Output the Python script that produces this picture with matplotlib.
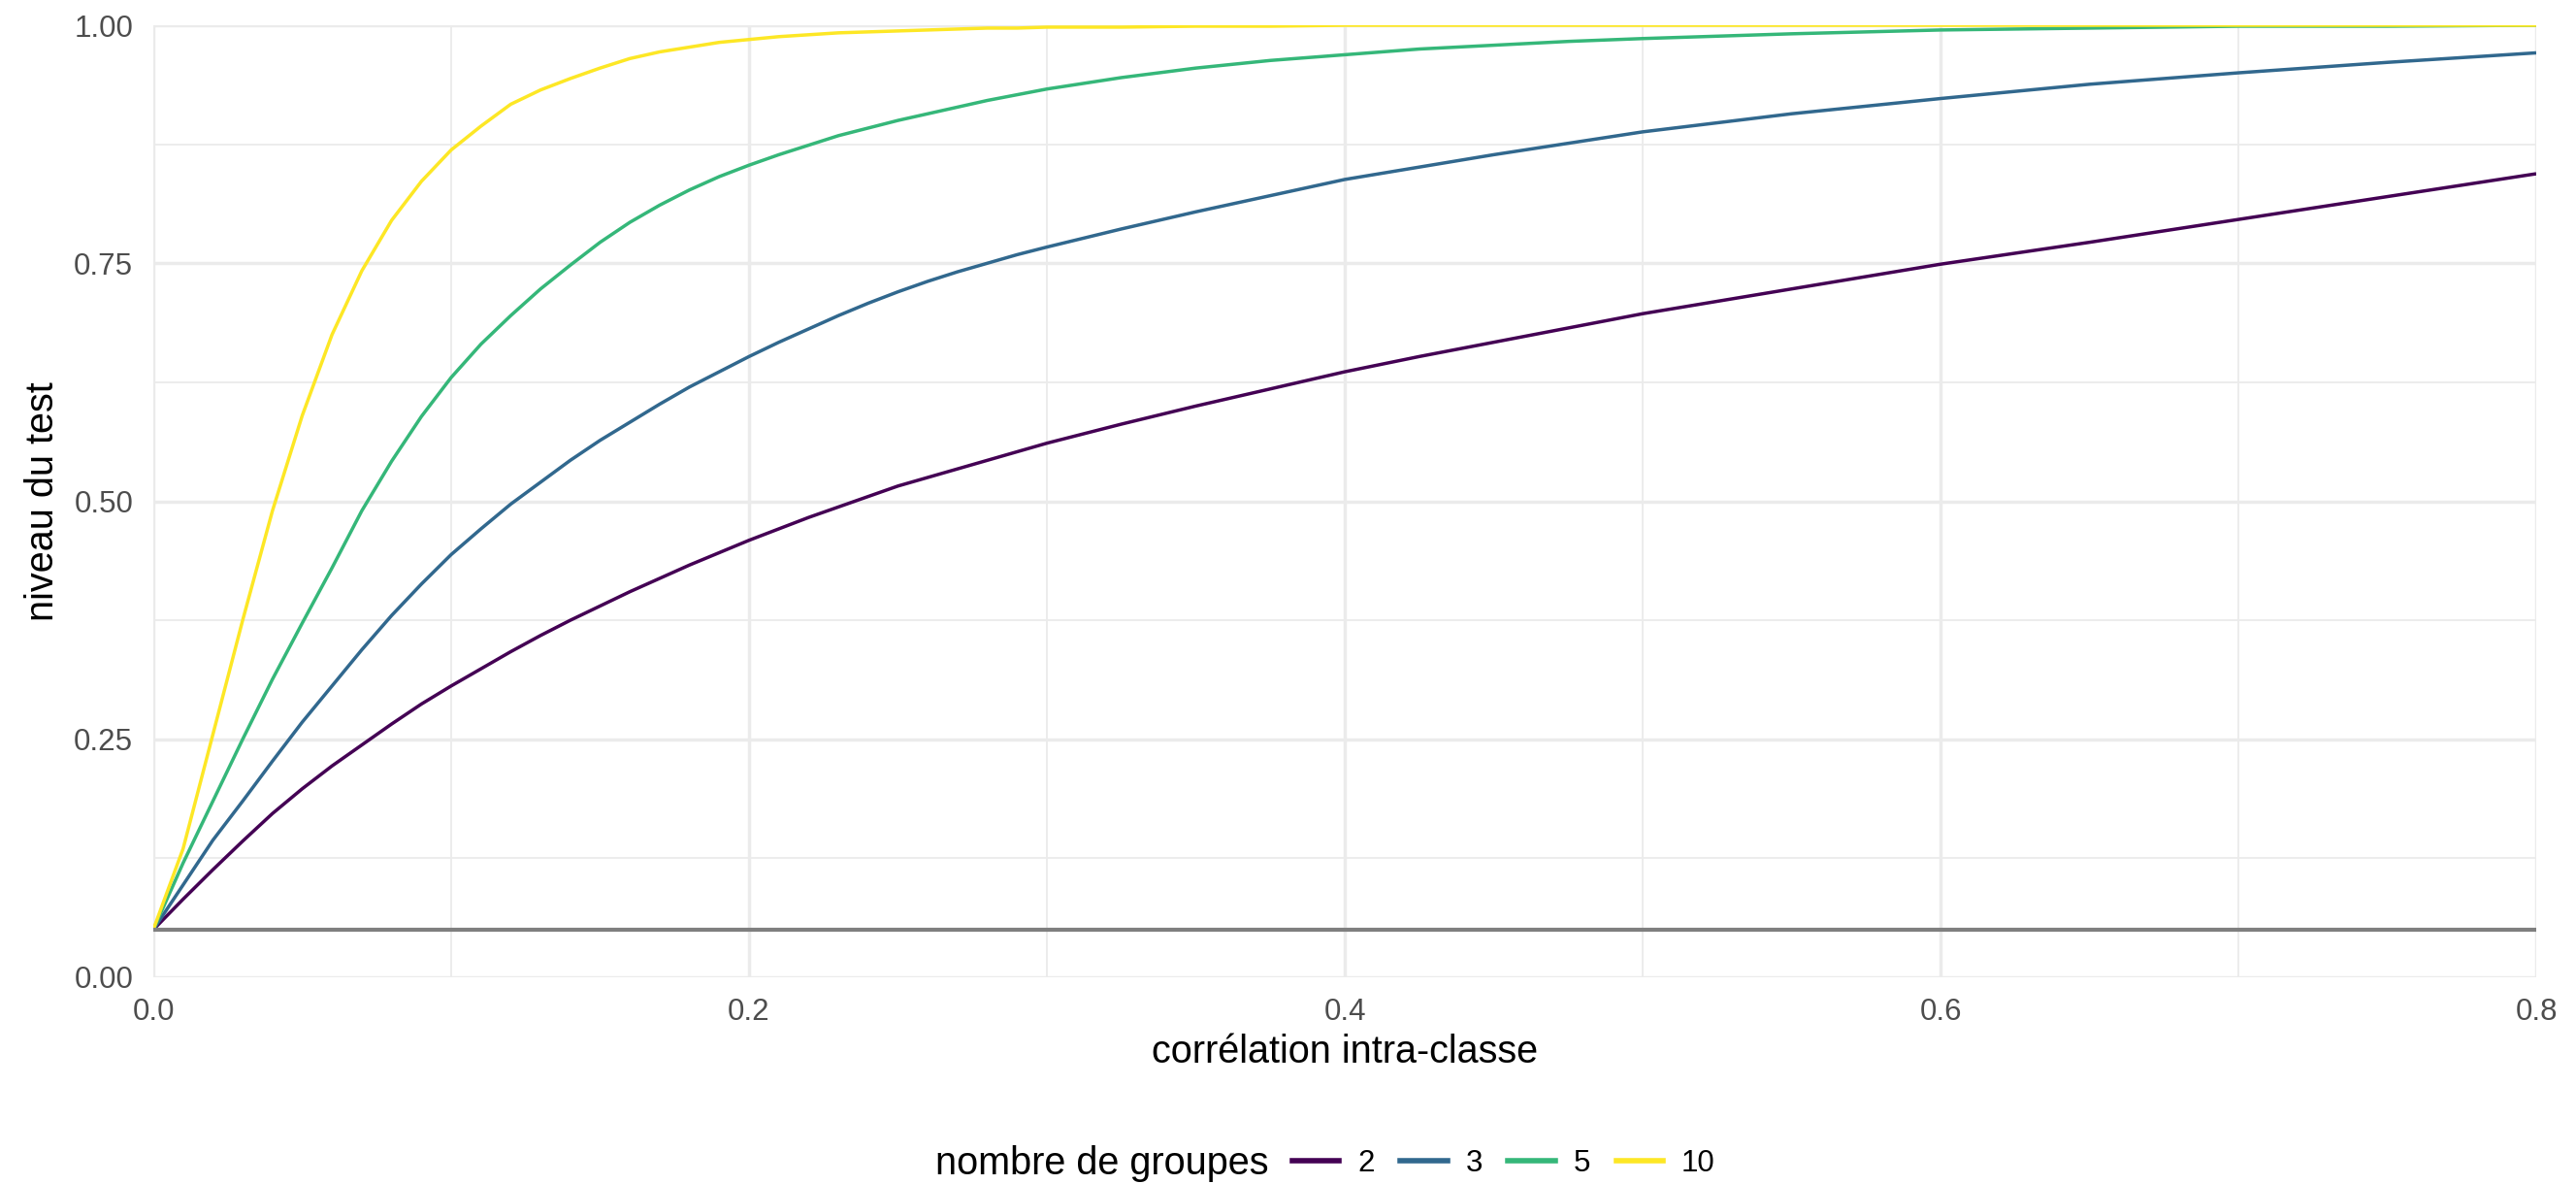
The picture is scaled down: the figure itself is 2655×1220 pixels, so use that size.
import matplotlib
matplotlib.use("Agg")
import matplotlib.pyplot as plt
from matplotlib.lines import Line2D
from matplotlib.ticker import MultipleLocator, FixedLocator

# correlation intra-classe (x) and level of the test for each number of groups
correlation = [0.00, 0.01, 0.02, 0.03, 0.04, 0.05, 0.06, 0.07, 0.08, 0.09,
               0.10, 0.11, 0.12, 0.13, 0.14, 0.15, 0.16, 0.17, 0.18, 0.19,
               0.20, 0.21, 0.22, 0.23, 0.24, 0.25, 0.26, 0.27, 0.28, 0.29,
               0.30, 0.325, 0.35, 0.375, 0.40, 0.425, 0.45, 0.475, 0.50,
               0.55, 0.60, 0.65, 0.70, 0.75, 0.80]

niveau_2 = [0.050, 0.082, 0.113, 0.143, 0.172, 0.198, 0.222, 0.244, 0.266, 0.287,
            0.306, 0.324, 0.342, 0.359, 0.375, 0.390, 0.405, 0.419, 0.433, 0.446,
            0.459, 0.471, 0.483, 0.494, 0.505, 0.516, 0.525, 0.534, 0.543, 0.552,
            0.561, 0.581, 0.600, 0.618, 0.636, 0.652, 0.667, 0.682, 0.697,
            0.723, 0.749, 0.772, 0.796, 0.820, 0.844]
niveau_3 = [0.050, 0.097, 0.144, 0.185, 0.227, 0.268, 0.306, 0.344, 0.380, 0.413,
            0.444, 0.471, 0.497, 0.520, 0.543, 0.564, 0.583, 0.602, 0.620, 0.636,
            0.652, 0.667, 0.681, 0.695, 0.708, 0.720, 0.731, 0.741, 0.750, 0.759,
            0.767, 0.786, 0.804, 0.821, 0.838, 0.851, 0.864, 0.876, 0.888,
            0.907, 0.923, 0.938, 0.950, 0.961, 0.971]
niveau_5 = [0.050, 0.120, 0.185, 0.250, 0.313, 0.372, 0.430, 0.490, 0.542, 0.589,
            0.630, 0.665, 0.695, 0.723, 0.748, 0.772, 0.793, 0.811, 0.827, 0.841,
            0.853, 0.864, 0.874, 0.884, 0.892, 0.900, 0.907, 0.914, 0.921, 0.927,
            0.933, 0.945, 0.955, 0.963, 0.969, 0.975, 0.979, 0.983, 0.986,
            0.991, 0.995, 0.997, 0.999, 0.999, 1.000]
niveau_10 = [0.050, 0.135, 0.255, 0.375, 0.490, 0.590, 0.675, 0.742, 0.795, 0.836,
             0.869, 0.894, 0.917, 0.932, 0.944, 0.955, 0.965, 0.972, 0.977, 0.982,
             0.985, 0.988, 0.990, 0.992, 0.993, 0.994, 0.995, 0.996, 0.997, 0.997,
             0.998, 0.998, 0.999, 0.999, 1.000, 1.000, 1.000, 1.000, 1.000,
             1.000, 1.000, 1.000, 1.000, 1.000, 1.000]

groupes = ["2", "3", "5", "10"]
niveaux = [niveau_2, niveau_3, niveau_5, niveau_10]
couleurs = ["#440154", "#31688E", "#35B779", "#FDE725"]
niveau_nominal = 0.05

plt.rcParams["font.family"] = ["Liberation Sans", "DejaVu Sans"]

W, H = 2655, 1220
fig = plt.figure(figsize=(W / 100, H / 100), dpi=100)
left, right, top, bottom = 158, 2614, 26, 1007
ax = fig.add_axes([left / W, 1 - bottom / H, (right - left) / W, (bottom - top) / H])

for niveau, couleur in zip(niveaux, couleurs):
    ax.plot(correlation, niveau, color=couleur, lw=2.5, solid_capstyle="butt")
ax.axhline(niveau_nominal, color="#7F7F7F", lw=3, zorder=3)

ax.set_xlim(0, 0.8)
ax.set_ylim(0, 1)
ax.xaxis.set_major_locator(MultipleLocator(0.2))
ax.xaxis.set_minor_locator(FixedLocator([0.1, 0.3, 0.5, 0.7]))
ax.yaxis.set_major_locator(MultipleLocator(0.25))
ax.yaxis.set_minor_locator(FixedLocator([0.125, 0.375, 0.625, 0.875]))
ax.xaxis.set_major_formatter(lambda v, p: "{:.1f}".format(v))
ax.yaxis.set_major_formatter(lambda v, p: "{:.2f}".format(v))
ax.grid(which="major", color="#EBEBEB", lw=2.5)
ax.grid(which="minor", color="#EBEBEB", lw=1.3)
ax.set_axisbelow(True)
for s in ax.spines.values():
    s.set_visible(False)
ax.tick_params(which="both", length=0, pad=15, labelsize=22.5, labelcolor="#4D4D4D")

ax.set_xlabel("corrélation intra-classe", fontsize=28.5)
ax.set_ylabel("niveau du test", fontsize=28.5)
ax.xaxis.set_label_coords(0.5, (bottom - 1084) / (bottom - top))
ax.xaxis.label.set_va("center")
ax.yaxis.set_label_coords((44 - left) / (right - left), 0.5)
ax.yaxis.label.set_va("center")

# legend: title on the left, keys in one row
fig.text(964 / W, 1 - 1199 / H, "nombre de groupes", fontsize=28.5,
         ha="left", va="center")
handles = [Line2D([], [], color=c, lw=4) for c in couleurs]
fig.legend(handles, groupes, ncol=4, loc="center left",
           bbox_to_anchor=(1332 / W, 1 - 1199 / H), frameon=False,
           fontsize=22.5, handlelength=1.55, handletextpad=0.6,
           columnspacing=0.85, borderpad=0, borderaxespad=0)

fig.savefig("out.png", dpi=100, facecolor="white")
